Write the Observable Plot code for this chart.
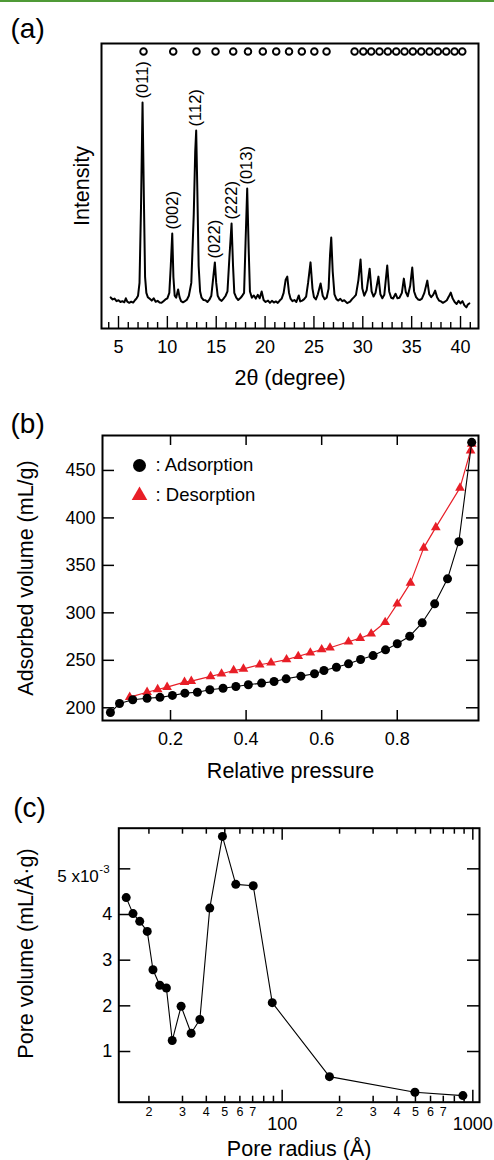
<!DOCTYPE html>
<html><head><meta charset="utf-8">
<script src="https://cdn.jsdelivr.net/npm/d3@7"></script>
<script src="https://cdn.jsdelivr.net/npm/@observablehq/plot@0.6"></script>
<style>
html,body{margin:0;padding:0;background:#fff;}
#wrap{position:relative;width:494px;height:1160px;overflow:hidden;background:#fff;}
#green{position:absolute;left:0;top:0;width:494px;height:2px;background:#4f9a36;}
</style></head><body><div id="wrap"><div id="green"></div></div>
<script>
// ---------- Panel (a): XRD pattern ----------
const twoTheta = [4.2,4.4,4.6,4.8,5.0,5.2,5.4,5.6,5.75,5.9,
6.1,6.3,6.5,6.7,6.85,7.0,7.15,7.3,7.46,7.6,
7.72,7.85,8.0,8.2,8.4,8.6,8.8,9.0,9.2,9.4,
9.6,9.8,10.0,10.2,10.35,10.5,10.62,10.75,10.9,11.1,
11.25,11.4,11.6,11.8,12.0,12.2,12.45,12.7,12.85,12.95,
13.07,13.2,13.35,13.5,13.7,13.9,14.1,14.3,14.5,14.7,
14.86,15.0,15.15,15.35,15.55,15.75,15.95,16.15,16.35,16.57,
16.72,16.85,17.05,17.25,17.45,17.65,17.85,18.0,18.17,18.32,
18.45,18.65,18.85,19.05,19.25,19.45,19.65,19.85,20.05,20.3,
20.5,20.7,20.9,21.1,21.3,21.5,21.7,21.9,22.1,22.27,
22.45,22.6,22.8,23.0,23.2,23.45,23.6,23.8,24.0,24.2,
24.4,24.65,24.85,25.0,25.2,25.4,25.68,25.9,26.1,26.3,
26.5,26.65,26.77,26.92,27.1,27.3,27.5,27.7,27.9,28.1,
28.4,28.7,28.9,29.1,29.3,29.55,29.77,29.95,30.15,30.4,
30.7,30.9,31.1,31.3,31.6,31.8,32.0,32.2,32.5,32.7,
32.9,33.1,33.35,33.55,33.75,34.0,34.2,34.4,34.6,34.85,
35.06,35.25,35.45,35.65,35.85,36.05,36.3,36.6,36.8,37.0,
37.2,37.4,37.6,37.8,38.0,38.2,38.4,38.6,38.8,39.0,
39.2,39.4,39.6,39.8,40.0,40.2,40.4,40.6,40.75,40.9];
const intensity = [10.9,10.2,10.5,9.6,9.9,9.3,9.6,9.2,10.6,9.4,
9.0,9.4,9.1,10.0,10.6,11.5,16,42,79.3,45,
18,12.5,11.0,10.4,9.8,10.6,9.4,9.7,9.1,9.0,
9.6,10.2,10.6,12.5,22,33.3,18,11.5,10.8,13.7,
11.0,9.6,9.2,9.6,10.1,11.5,16,40,62,69.5,
48,22,13,10.8,10.0,9.9,9.3,10.1,11.5,18,
23.2,16,11.5,10.2,9.7,10.5,11.4,13,25,36.8,
22,12.5,10.8,10.0,10.6,11.4,12.5,30,49.1,28,
13,10.8,11.6,10.5,11.8,10.6,13.0,10.0,9.3,9.8,
9.0,9.7,9.1,9.5,9.0,9.8,10.5,12.5,17,18.2,
12.5,10.5,9.6,10.0,9.3,11.6,9.5,9.8,10.3,11.2,
16,23.2,14,11,10.2,12,15.8,11.5,10.3,10.8,
14,26,31.9,20,12,10.3,9.8,10.4,9.6,9.9,
8.9,9.4,10.3,11.0,11.8,17,24.2,14,11.5,13.5,
21,13,11.2,12.5,18.2,12,10.6,11.8,22.1,13,
10.8,10.5,12.2,10.6,10.8,12.5,17.5,12.8,11.3,15,
21.4,13,11,10.2,10.0,10.5,12.5,16.8,12,11,
11.8,13.3,11,9.8,9.5,9.0,9.4,9.9,11.2,12.6,
10.5,9.3,8.6,9.7,8.8,9.6,8.1,7.4,8.4,8.8];
const reflections = [7.56,10.6,12.98,14.93,16.74,18.25,19.77,21.14,22.45,23.76,25.04,26.29,
29.16,30.05,30.86,31.71,32.56,33.42,34.27,35.12,35.98,36.83,37.68,38.54,39.39,40.18];
const peakNames = ["(011)","(002)","(112)","(022)","(222)","(013)"];
const peakTheta = [7.46,10.5,12.95,14.86,16.57,18.17];
const peakTop = [79.3,33.3,69.5,23.2,36.8,49.1];
const xTicksA = [5,10,15,20,25,30,35,40];
const xMinorA = [4,6,7,8,9,11,12,13,14,16,17,18,19,21,22,23,24,26,27,28,29,31,32,33,34,36,37,38,39,41];

// ---------- Panel (b): N2 isotherm ----------
const adsP = [0.041,0.065,0.100,0.138,0.172,0.205,0.238,0.271,0.304,0.339,0.373,0.406,0.441,0.474,0.506,
0.545,0.581,0.606,0.639,0.671,0.703,0.736,0.769,0.800,0.833,0.866,0.899,0.933,0.963,0.997];
const adsV = [195,204.5,208.4,210,211,213,215.4,216.4,219,220.6,222.4,224.2,226,227.7,230.5,
233.3,235.8,239.3,242.7,246.3,250.8,255,261,267.4,275.4,289.5,309.5,335.8,375,479.6];
const desP = [0.092,0.138,0.166,0.191,0.237,0.255,0.306,0.335,0.367,0.393,0.436,0.466,0.507,0.538,
0.570,0.600,0.622,0.671,0.702,0.731,0.768,0.800,0.835,0.870,0.902,0.966,0.994,0.997];
const desV = [211.2,216.4,219.3,221.7,227,228,233,235.8,239.3,241,245.3,247.4,250.8,254.3,
257.9,261.4,263.2,269.5,273.3,277.9,290.1,309.5,331.6,368.4,390,431.6,470.8,478];
const xTicksB = [0.2,0.4,0.6,0.8];
const yTicksB = [200,250,300,350,400,450];
const legendB = ["Adsorption","Desorption"];

// ---------- Panel (c): pore size distribution ----------
const poreR = [15.2,16.5,17.9,19.6,21.0,22.8,24.7,26.5,29.5,33.3,37.0,41.7,48.6,57.1,70.5,88.7,177,497,887];
const poreV = [4.37,4.02,3.85,3.63,2.79,2.45,2.39,1.24,1.99,1.40,1.70,4.14,5.71,4.66,4.63,2.07,0.45,0.107,0.035]; // x10^-3 mL/(Å·g)
const xMinorC = [20,30,40,50,60,70,80,90,200,300,400,500,600,700,800,900];
const xMajorC = [100,1000];
const xSmallC = [20,30,40,50,60,70,200,300,400,500,600,700];
const xSmallLabelC = ["2","3","4","5","6","7","2","3","4","5","6","7"];
const yTicksC = [1,2,3,4,5];
const yLabelC = ["1","2","3","4"];

const W = 494;
const FONT = '"Liberation Sans", Arial, Helvetica, sans-serif';
const RED = "#e81e27";
const wrap = document.getElementById("wrap");
function place(svg, top) {
  svg.style.position = "absolute"; svg.style.left = "0px"; svg.style.top = top + "px";
  wrap.appendChild(svg);
}
const baseStyle = {fontFamily: FONT, fontSize: "18px", background: "transparent", overflow: "visible", color: "black"};
const id = d => d;

// ----- (a) -----
{
  const h = 400, mt = 43, mb = 72, ml = 101, mr = 16;
  const FH = h - mt - mb;
  const xrd = twoTheta.map((t, i) => ({t, I: intensity[i]}));
  const peaks = peakNames.map((name, i) => ({name, t: peakTheta[i], I: peakTop[i]}));
  const svg = Plot.plot({
    width: W, height: h, marginTop: mt, marginBottom: mb, marginLeft: ml, marginRight: mr,
    style: baseStyle,
    x: {domain: [3.26, 41.84], axis: null},
    y: {domain: [0, 100], axis: null},
    marks: [
      Plot.ruleX(xMinorA, {x: id, insetTop: FH - 6, stroke: "black", strokeWidth: 1.4}),
      Plot.ruleX(xTicksA, {x: id, insetTop: FH - 12, stroke: "black", strokeWidth: 1.4}),
      Plot.line(xrd, {x: "t", y: "I", stroke: "black", strokeWidth: 2, strokeLinejoin: "round"}),
      Plot.dot(reflections, {x: id, frameAnchor: "top", dy: 8, r: 3.3, stroke: "black", strokeWidth: 1.9, fill: "white"}),
      Plot.text(peaks, {x: "t", y: "I", text: "name", rotate: -90, textAnchor: "start", dy: -4, fontSize: 16.5}),
      Plot.text(xTicksA, {x: id, frameAnchor: "bottom", dy: 12, lineAnchor: "top", textAnchor: "middle", text: d => String(d), fontSize: 18}),
      Plot.text(["2θ (degree)"], {frameAnchor: "bottom", dy: 56, lineAnchor: "bottom", textAnchor: "middle", text: id, fontSize: 21.5}),
      Plot.text(["Intensity"], {frameAnchor: "left", dx: -19, rotate: -90, textAnchor: "middle", lineAnchor: "middle", text: id, fontSize: 21.5}),
      Plot.text(["(a)"], {frameAnchor: "top-left", dx: -91, dy: -5.5, lineAnchor: "bottom", textAnchor: "start", text: id, fontSize: 28}),
      Plot.frame({stroke: "black", strokeWidth: 2})
    ]
  });
  place(svg, 0);
}

// ----- (b) -----
{
  const h = 390, mt = 35, mb = 70, ml = 102, mr = 16;
  const FH = h - mt - mb, FW = W - ml - mr;
  const ads = adsP.map((p, i) => ({p, v: adsV[i]}));
  const des = desP.map((p, i) => ({p, v: desV[i]}));
  const svg = Plot.plot({
    width: W, height: h, marginTop: mt, marginBottom: mb, marginLeft: ml, marginRight: mr,
    style: baseStyle,
    x: {domain: [0.02, 1.015], axis: null},
    y: {domain: [186.6, 486.8], axis: null},
    marks: [
      Plot.ruleX(xTicksB, {x: id, insetTop: FH - 10, stroke: "black", strokeWidth: 1.5}),
      Plot.ruleX(xTicksB, {x: id, insetBottom: FH - 10, stroke: "black", strokeWidth: 1.5}),
      Plot.ruleY(yTicksB, {y: id, insetRight: FW - 12, stroke: "black", strokeWidth: 1.5}),
      Plot.ruleY(yTicksB, {y: id, insetLeft: FW - 12, stroke: "black", strokeWidth: 1.5}),
      Plot.line(des, {x: "p", y: "v", stroke: RED, strokeWidth: 1.2}),
      Plot.dot(des, {x: "p", y: "v", symbol: "triangle", r: 3.6, fill: RED}),
      Plot.line(ads, {x: "p", y: "v", stroke: "black", strokeWidth: 1.1}),
      Plot.dot(ads, {x: "p", y: "v", r: 4.5, fill: "black"}),
      Plot.dot(legendB.slice(0, 1), {frameAnchor: "top-left", dx: 37, dy: 30, r: 6.5, fill: "black"}),
      Plot.dot(legendB.slice(1), {frameAnchor: "top-left", dx: 37, dy: 60, r: 5.8, symbol: "triangle", fill: RED}),
      Plot.text(legendB.slice(0, 1), {frameAnchor: "top-left", dx: 53, dy: 30, text: d => ": " + d, textAnchor: "start", lineAnchor: "middle", fontSize: 18.5}),
      Plot.text(legendB.slice(1), {frameAnchor: "top-left", dx: 53, dy: 60, text: d => ": " + d, textAnchor: "start", lineAnchor: "middle", fontSize: 18.5}),
      Plot.text(xTicksB, {x: id, frameAnchor: "bottom", dy: 11.5, lineAnchor: "top", textAnchor: "middle", text: d => d.toFixed(1), fontSize: 18}),
      Plot.text(yTicksB, {y: id, frameAnchor: "left", dx: -7, textAnchor: "end", lineAnchor: "middle", text: d => String(d), fontSize: 18}),
      Plot.text(["Relative pressure"], {frameAnchor: "bottom", dy: 57, lineAnchor: "bottom", textAnchor: "middle", text: id, fontSize: 21.5}),
      Plot.text(["Adsorbed volume (mL/g)"], {frameAnchor: "left", dx: -76, rotate: -90, textAnchor: "middle", lineAnchor: "middle", text: id, fontSize: 21.5}),
      Plot.text(["(b)"], {frameAnchor: "top-left", dx: -92, dy: -3, lineAnchor: "bottom", textAnchor: "start", text: id, fontSize: 28}),
      Plot.frame({stroke: "black", strokeWidth: 2})
    ]
  });
  place(svg, 400);
}

// ----- (c) -----
{
  const h = 370, mt = 37.7, mb = 58.3, ml = 118.3, mr = 15;
  const FH = h - mt - mb, FW = W - ml - mr;
  const pores = poreR.map((r, i) => ({r, v: poreV[i]}));
  const small = xSmallC.map((x, i) => ({x, label: xSmallLabelC[i]}));
  const ylab = yLabelC.map((label, i) => ({y: yTicksC[i], label}));
  const svg = Plot.plot({
    width: W, height: h, marginTop: mt, marginBottom: mb, marginLeft: ml, marginRight: mr,
    style: baseStyle,
    x: {type: "log", domain: [13.9, 1084], axis: null},
    y: {domain: [-0.11, 5.89], axis: null},
    marks: [
      Plot.ruleX(xMinorC, {x: id, insetTop: FH - 6, stroke: "black", strokeWidth: 1.5}),
      Plot.ruleX(xMinorC, {x: id, insetBottom: FH - 6, stroke: "black", strokeWidth: 1.5}),
      Plot.ruleX(xMajorC, {x: id, insetTop: FH - 12, stroke: "black", strokeWidth: 1.5}),
      Plot.ruleX(xMajorC, {x: id, insetBottom: FH - 12, stroke: "black", strokeWidth: 1.5}),
      Plot.ruleY(yTicksC, {y: id, insetRight: FW - 12, stroke: "black", strokeWidth: 1.5}),
      Plot.ruleY(yTicksC, {y: id, insetLeft: FW - 12, stroke: "black", strokeWidth: 1.5}),
      Plot.line(pores, {x: "r", y: "v", stroke: "black", strokeWidth: 1.1}),
      Plot.dot(pores, {x: "r", y: "v", r: 4.5, fill: "black"}),
      Plot.text(small, {x: "x", frameAnchor: "bottom", dy: 5, lineAnchor: "top", textAnchor: "middle", text: "label", fontSize: 12.5}),
      Plot.text(xMajorC, {x: id, frameAnchor: "bottom", dy: 15, lineAnchor: "top", textAnchor: "middle", text: d => String(d), fontSize: 18}),
      Plot.text(ylab, {y: "y", frameAnchor: "left", dx: -6.6, textAnchor: "end", lineAnchor: "middle", text: "label", fontSize: 18}),
      Plot.text([5], {y: id, frameAnchor: "left", dx: -20, dy: 8, textAnchor: "end", lineAnchor: "middle", text: () => "5 x10", fontSize: 17}),
      Plot.text([5], {y: id, frameAnchor: "left", dx: -19.5, dy: 0, textAnchor: "start", lineAnchor: "middle", text: () => "-3", fontSize: 11.5}),
      Plot.text(["Pore radius (Å)"], {frameAnchor: "bottom", dy: 53.3, lineAnchor: "bottom", textAnchor: "middle", text: id, fontSize: 21.5}),
      Plot.text(["Pore volume (mL/Å·g)"], {frameAnchor: "left", dx: -92.3, dy: -11.7, rotate: -90, textAnchor: "middle", lineAnchor: "middle", text: id, fontSize: 21.5}),
      Plot.text(["(c)"], {frameAnchor: "top-left", dx: -105.6, dy: -11, lineAnchor: "bottom", textAnchor: "start", text: id, fontSize: 28}),
      Plot.frame({stroke: "black", strokeWidth: 2})
    ]
  });
  place(svg, 790);
}
</script></body></html>
